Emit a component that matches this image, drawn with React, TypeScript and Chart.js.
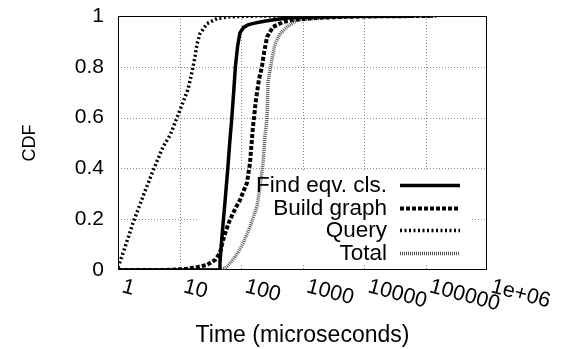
import { useEffect, useRef } from 'react';
import { Chart, registerables } from 'chart.js';

Chart.register(...registerables);

// ---------------- data ----------------
const seriesLabels = ['Find eqv. cls.', 'Build graph', 'Query', 'Total'];

const findX = [1, 44, 45.5, 49, 55, 61, 66, 71, 76, 81, 88, 96, 110, 130, 160, 204, 300, 560, 1500, 5000, 60000];
const findY = [0, 0, 0.03, 0.13, 0.27, 0.4, 0.51, 0.6, 0.7, 0.8, 0.88, 0.933, 0.955, 0.965, 0.971, 0.976, 0.983, 0.992, 0.996, 0.999, 1];

const buildX = [1, 5.8, 9, 13.2, 20, 28, 38, 45.6, 51, 58, 66, 80, 96, 125, 140, 150, 156, 175, 196, 219, 237, 265, 331, 482, 700, 1500, 5000, 20000, 120000];
const buildY = [0, 0, 0.002, 0.005, 0.012, 0.02, 0.04, 0.067, 0.118, 0.16, 0.197, 0.24, 0.275, 0.343, 0.42, 0.51, 0.56, 0.67, 0.75, 0.8, 0.855, 0.917, 0.957, 0.976, 0.985, 0.992, 0.997, 0.999, 1];

const queryX = [1, 1.3, 1.75, 2.55, 3.7, 5.4, 7.0, 10.2, 13.7, 16, 17.9, 19.3, 21.5, 28, 40.7, 66, 204, 150000];
const queryY = [0.01, 0.09, 0.185, 0.29, 0.39, 0.485, 0.53, 0.63, 0.71, 0.78, 0.84, 0.89, 0.93, 0.97, 0.99, 0.997, 1, 1];

const totalX = [1, 49, 60, 74, 90, 108, 140, 182, 204, 228, 246, 265, 275, 319, 357, 431, 560, 814, 2800, 10000, 150000];
const totalY = [0, 0, 0.015, 0.04, 0.07, 0.105, 0.17, 0.25, 0.33, 0.42, 0.53, 0.6, 0.74, 0.83, 0.89, 0.93, 0.957, 0.984, 0.995, 0.999, 1];

const xTickValues = [1, 10, 100, 1000, 10000, 100000, 1000000];
const xTickLabels = ['1', '10', '100', '1000', '10000', '100000', '1e+06'];
const yTickValues = [0, 0.2, 0.4, 0.6, 0.8, 1];
const yTickLabels = ['0', '0.2', '0.4', '0.6', '0.8', '1'];

const xAxisTitle = 'Time (microseconds)';
const yAxisTitle = 'CDF';

// ---------------- styles ----------------
const FONT = '"Liberation Sans", Arial, Helvetica, sans-serif';
const seriesColors = ['#000000', '#000000', '#000000', '#555555'];
const seriesWidths = [3.5, 4, 3.5, 3.5];
const seriesDashes: number[][] = [[], [4, 2], [2, 2.5], [1, 1]];

const W = 561;
const H = 349;

const decorPlugin = {
  id: 'gnuplotDecor',
  beforeDatasetsDraw(chart: any) {
    const { ctx, chartArea: a, scales } = chart;
    const xs = scales.x;
    const ys = scales.y;
    ctx.save();
    // dotted grid
    ctx.strokeStyle = '#8a8a8a';
    ctx.lineWidth = 1;
    ctx.setLineDash([1, 2]);
    yTickValues.forEach((v) => {
      if (v <= ys.min || v >= ys.max) return;
      const py = Math.round(ys.getPixelForValue(v)) + 0.5;
      ctx.beginPath();
      ctx.moveTo(a.left, py);
      ctx.lineTo(a.right, py);
      ctx.stroke();
    });
    xTickValues.forEach((v) => {
      if (v <= xs.min || v >= xs.max) return;
      const px = Math.round(xs.getPixelForValue(v)) + 0.5;
      ctx.beginPath();
      ctx.moveTo(px, a.top);
      ctx.lineTo(px, a.bottom);
      ctx.stroke();
    });
    // opaque key box
    ctx.setLineDash([]);
    ctx.fillStyle = '#ffffff';
    ctx.fillRect(a.left + 79, a.top + 156, a.right - a.left - 79 - 15, a.bottom - a.top - 156 - 6);
    // border
    ctx.strokeStyle = '#000000';
    ctx.lineWidth = 1;
    ctx.strokeRect(a.left + 0.5, a.top + 0.5, a.right - a.left - 1, a.bottom - a.top - 1);
    ctx.restore();
  },
  afterDatasetsDraw(chart: any) {
    const { ctx, chartArea: a } = chart;
    ctx.save();
    ctx.font = `22.5px ${FONT}`;
    ctx.fillStyle = '#000';
    ctx.textAlign = 'right';
    ctx.textBaseline = 'alphabetic';
    const textRight = a.right - 100;
    const sampleL = a.right - 87;
    const sampleR = a.right - 27;
    chart.data.datasets.forEach((ds: any, i: number) => {
      const base = a.top + 176 + i * 22.7;
      ctx.fillText(ds.label, textRight, base);
      const sy = Math.round(base - 7) + 0.5;
      ctx.beginPath();
      ctx.strokeStyle = ds.borderColor;
      ctx.lineWidth = ds.borderWidth;
      ctx.setLineDash(ds.borderDash || []);
      ctx.moveTo(sampleL, sy);
      ctx.lineTo(sampleR, sy);
      ctx.stroke();
    });
    ctx.restore();
  },
  afterDraw(chart: any) {
    const { ctx, chartArea: a, scales } = chart;
    const xs = scales.x;
    ctx.save();
    ctx.font = `21.5px ${FONT}`;
    ctx.fillStyle = '#000';
    ctx.textAlign = 'left';
    ctx.textBaseline = 'alphabetic';
    xTickValues.forEach((v, i) => {
      const px = xs.getPixelForValue(v);
      ctx.save();
      ctx.translate(px + 3, a.bottom + 22);
      ctx.rotate((15 * Math.PI) / 180);
      ctx.fillText(xTickLabels[i], 0, 0);
      ctx.restore();
    });
    ctx.restore();
  },
};

function toPoints(xs: number[], ys: number[]) {
  return xs.map((x, i) => ({ x, y: ys[i] }));
}

export default function App() {
  const ref = useRef<HTMLCanvasElement | null>(null);

  useEffect(() => {
    document.body.style.margin = '0';
    const canvas = ref.current;
    if (!canvas) return;
    const seriesData = [
      toPoints(findX, findY),
      toPoints(buildX, buildY),
      toPoints(queryX, queryY),
      toPoints(totalX, totalY),
    ];
    const chart = new Chart(canvas, {
      type: 'line',
      data: {
        datasets: seriesLabels.map((label, i) => ({
          label,
          data: seriesData[i],
          borderColor: seriesColors[i],
          backgroundColor: seriesColors[i],
          borderWidth: seriesWidths[i],
          borderDash: seriesDashes[i],
          borderCapStyle: 'butt',
          borderJoinStyle: 'miter',
          pointRadius: 0,
          pointHoverRadius: 0,
          tension: 0,
          fill: false,
        })),
      },
      options: {
        animation: false,
        responsive: false,
        devicePixelRatio: 1,
        events: [],
        layout: { padding: { top: 16, right: 74, left: 0, bottom: 0 } },
        plugins: {
          legend: { display: false },
          tooltip: { enabled: false },
          title: { display: false },
        },
        scales: {
          x: {
            type: 'logarithmic',
            min: 1,
            max: 1000000,
            afterBuildTicks: (s: any) => {
              s.ticks = xTickValues.map((v) => ({ value: v, major: true }));
            },
            afterFit: (s: any) => {
              s.height = 79;
              s.paddingLeft = 0;
              s.paddingRight = 0;
              s.paddingTop = 0;
              s.paddingBottom = 0;
            },
            grid: { display: false, drawTicks: false },
            border: { display: false },
            ticks: { display: false },
            title: {
              display: true,
              text: xAxisTitle,
              color: '#000',
              font: { family: FONT, size: 23 },
              padding: { top: 0, bottom: 0 },
            },
          },
          y: {
            type: 'linear',
            min: 0,
            max: 1,
            afterBuildTicks: (s: any) => {
              s.ticks = yTickValues.map((v) => ({ value: v }));
            },
            afterFit: (s: any) => {
              s.width = 118;
              s.paddingTop = 0;
              s.paddingBottom = 0;
              s.paddingLeft = 0;
              s.paddingRight = 0;
            },
            grid: { display: false, drawTicks: false },
            border: { display: false },
            ticks: {
              color: '#000',
              padding: 14,
              font: { family: FONT, size: 21 },
              callback: (_v: any, i: number) => yTickLabels[i],
            },
            title: {
              display: true,
              text: yAxisTitle,
              color: '#000',
              font: { family: FONT, size: 18 },
              padding: { top: 19, bottom: 0 },
            },
          },
        },
      },
      plugins: [decorPlugin],
    } as any);
    return () => chart.destroy();
  }, []);

  return (
    <div style={{ position: 'fixed', left: 0, top: 0, width: W, height: H, background: '#fff' }}>
      <canvas ref={ref} width={W} height={H} style={{ width: W, height: H, display: 'block' }} />
    </div>
  );
}
